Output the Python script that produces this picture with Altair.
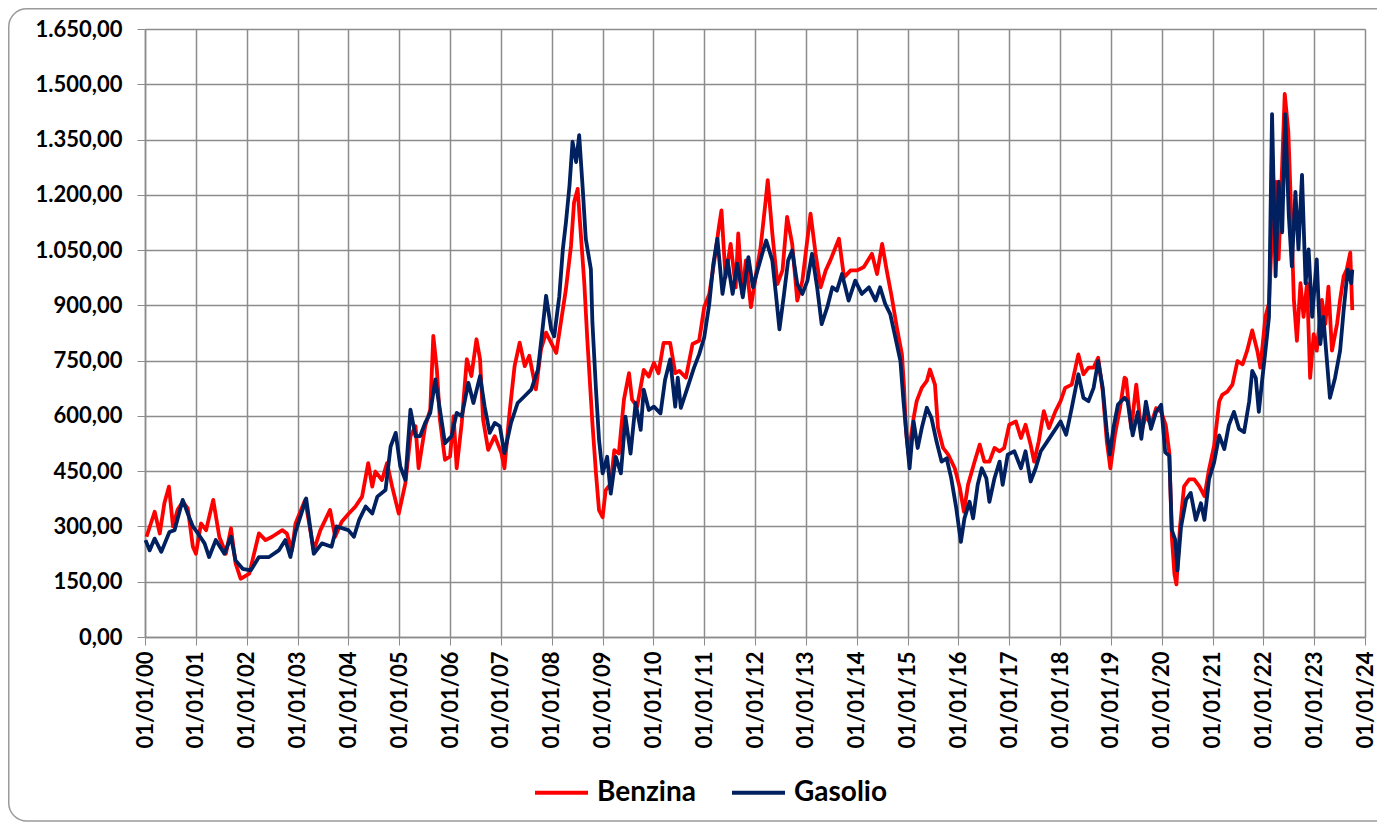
import altair as alt
import pandas as pd

# ---- data (decimal years, values) ----
benzina_anni = [
    2000.03, 2000.19, 2000.29, 2000.38, 2000.47, 2000.55, 2000.64, 2000.74, 2000.84, 2000.94,
    2001.00, 2001.10, 2001.20, 2001.34, 2001.46, 2001.59, 2001.69, 2001.78, 2001.88,
    2002.05, 2002.24, 2002.37, 2002.50, 2002.70, 2002.79, 2002.89, 2002.96,
    2003.15, 2003.32, 2003.45, 2003.64, 2003.74, 2003.87,
    2004.01, 2004.14, 2004.27, 2004.39, 2004.47, 2004.53, 2004.66, 2004.76, 2004.86, 2004.99,
    2005.12, 2005.22, 2005.32, 2005.38, 2005.51, 2005.61, 2005.67, 2005.74, 2005.80, 2005.90,
    2006.00, 2006.07, 2006.13, 2006.23, 2006.33, 2006.42, 2006.52, 2006.59, 2006.65, 2006.75, 2006.88,
    2007.01, 2007.07, 2007.17, 2007.27, 2007.37, 2007.47, 2007.56, 2007.69, 2007.79, 2007.89,
    2008.09, 2008.18, 2008.28, 2008.38, 2008.44, 2008.51, 2008.57, 2008.64, 2008.70, 2008.80, 2008.87, 2008.93,
    2009.00, 2009.06, 2009.16, 2009.23, 2009.32, 2009.42, 2009.52, 2009.58, 2009.68, 2009.81, 2009.91,
    2010.01, 2010.10, 2010.20, 2010.33, 2010.43, 2010.51, 2010.64, 2010.77, 2010.90,
    2011.00, 2011.10, 2011.20, 2011.29, 2011.34, 2011.42, 2011.52, 2011.62, 2011.67, 2011.75, 2011.82, 2011.92,
    2012.01, 2012.11, 2012.21, 2012.25, 2012.34, 2012.44, 2012.54, 2012.63, 2012.73, 2012.83, 2012.93,
    2013.09, 2013.19, 2013.29, 2013.39, 2013.48, 2013.65, 2013.75, 2013.88,
    2014.01, 2014.14, 2014.30, 2014.40, 2014.50, 2014.59, 2014.69, 2014.79, 2014.89, 2014.93, 2014.97,
    2015.02, 2015.12, 2015.18, 2015.28, 2015.38, 2015.44, 2015.54, 2015.60, 2015.70, 2015.80, 2015.93,
    2016.03, 2016.11, 2016.19, 2016.32, 2016.42, 2016.51, 2016.61, 2016.71, 2016.81, 2016.90,
    2017.00, 2017.13, 2017.23, 2017.32, 2017.42, 2017.49, 2017.58, 2017.68, 2017.78, 2017.91,
    2018.01, 2018.10, 2018.23, 2018.36, 2018.46, 2018.56, 2018.66, 2018.75, 2018.84, 2018.92, 2018.99,
    2019.08, 2019.18, 2019.27, 2019.30, 2019.40, 2019.50, 2019.60, 2019.69, 2019.79, 2019.89, 2019.99,
    2020.08, 2020.15, 2020.20, 2020.25, 2020.29, 2020.36, 2020.44, 2020.54, 2020.64, 2020.74, 2020.84, 2020.93,
    2021.03, 2021.13, 2021.19, 2021.29, 2021.39, 2021.49, 2021.59, 2021.68, 2021.78, 2021.88, 2021.94,
    2022.04, 2022.11, 2022.17, 2022.24, 2022.30, 2022.37, 2022.42, 2022.49, 2022.53, 2022.60, 2022.66,
    2022.73, 2022.79, 2022.86, 2022.92, 2022.99,
    2023.05, 2023.15, 2023.22, 2023.28, 2023.35, 2023.45, 2023.51, 2023.58, 2023.64, 2023.71, 2023.75,
]
benzina_valori = [
    272, 340, 281, 363, 408, 300, 345, 367, 349, 245,
    226, 308, 290, 372, 272, 226, 295, 200, 158,
    172, 281, 263, 272, 290, 281, 235, 308,
    372, 235, 290, 345, 272, 313,
    335, 354, 381, 472, 408, 449, 426, 472, 408, 335,
    417, 545, 572, 458, 572, 617, 817, 726, 590, 481,
    490, 599, 458, 581, 754, 708, 808, 754, 590, 508, 545,
    499, 458, 608, 735, 799, 735, 763, 672, 781, 826,
    771, 853, 944, 1062, 1180, 1216, 1098, 962, 807, 580, 444, 344,
    325, 398, 416, 507, 498, 644, 716, 644, 625, 725, 707,
    744, 716, 798, 798, 716, 722, 704, 795, 804,
    895, 931, 1022, 1113, 1158, 976, 1067, 949, 1095, 931, 1022, 895,
    976, 1058, 1185, 1240, 1095, 958, 995, 1140, 1067, 913, 967,
    1149, 1040, 949, 995, 1022, 1081, 976, 995,
    995, 1004, 1040, 985, 1067, 995, 922, 840, 767, 680, 560,
    495, 595, 640, 676, 695, 726, 685, 567, 513, 495, 458,
    404, 340, 413, 476, 522, 476, 476, 513, 504, 513,
    576, 585, 540, 576, 522, 476, 531, 613, 567, 613,
    640, 676, 685, 767, 713, 731, 731, 758, 667, 531, 458,
    549, 622, 704, 700, 565, 685, 556, 602, 575, 621, 611,
    575, 501, 272, 171, 143, 299, 409, 428, 428, 409, 382, 455,
    519, 639, 657, 666, 685, 749, 740, 777, 832, 777, 731,
    869, 906, 1098, 1236, 1025, 1282, 1474, 1373, 1217, 915, 804,
    960, 869, 960, 703, 822,
    777, 915, 850, 951, 777, 850, 915, 979, 997, 1043, 887,
]

gasolio_anni = [
    2000.01, 2000.09, 2000.19, 2000.32, 2000.48, 2000.58, 2000.74, 2000.84, 2000.94,
    2001.04, 2001.17, 2001.26, 2001.39, 2001.56, 2001.69, 2001.78, 2001.92,
    2002.08, 2002.24, 2002.44, 2002.63, 2002.76, 2002.86, 2002.96,
    2003.17, 2003.32, 2003.48, 2003.67, 2003.77,
    2004.00, 2004.11, 2004.21, 2004.34, 2004.47, 2004.57, 2004.73, 2004.83, 2004.93,
    2005.02, 2005.12, 2005.22, 2005.32, 2005.41, 2005.51, 2005.61, 2005.71, 2005.80, 2005.90,
    2006.03, 2006.13, 2006.23, 2006.36, 2006.46, 2006.59, 2006.68, 2006.78, 2006.88, 2006.98,
    2007.07, 2007.20, 2007.33, 2007.47, 2007.60, 2007.73, 2007.82, 2007.89, 2007.99,
    2008.05, 2008.15, 2008.22, 2008.28, 2008.35, 2008.41, 2008.48, 2008.54, 2008.61, 2008.67,
    2008.77, 2008.80, 2008.87, 2008.93,
    2009.00, 2009.09, 2009.16, 2009.26, 2009.36, 2009.45, 2009.55, 2009.65, 2009.75, 2009.81, 2009.91,
    2010.01, 2010.14, 2010.23, 2010.33, 2010.43, 2010.48, 2010.54, 2010.67, 2010.80, 2010.90,
    2011.00, 2011.10, 2011.18, 2011.26, 2011.36, 2011.46, 2011.56, 2011.65, 2011.76, 2011.87, 2011.96,
    2012.05, 2012.16, 2012.22, 2012.34, 2012.41, 2012.48, 2012.57, 2012.65, 2012.73, 2012.83, 2012.93,
    2013.03, 2013.12, 2013.22, 2013.31, 2013.42, 2013.52, 2013.61, 2013.71, 2013.84, 2013.97,
    2014.10, 2014.24, 2014.37, 2014.46, 2014.56, 2014.66, 2014.76, 2014.86, 2014.92, 2014.99,
    2015.04, 2015.12, 2015.20, 2015.28, 2015.38, 2015.47, 2015.57, 2015.67, 2015.77, 2015.86, 2015.96,
    2016.05, 2016.12, 2016.22, 2016.29, 2016.38, 2016.46, 2016.55, 2016.61, 2016.71, 2016.81, 2016.87, 2016.97,
    2017.10, 2017.23, 2017.32, 2017.42, 2017.52, 2017.62, 2017.75, 2017.88,
    2018.01, 2018.12, 2018.23, 2018.36, 2018.46, 2018.56, 2018.66, 2018.75, 2018.84, 2018.92, 2018.98,
    2019.05, 2019.14, 2019.27, 2019.33, 2019.43, 2019.53, 2019.60, 2019.69, 2019.79, 2019.89, 2019.99,
    2020.07, 2020.15, 2020.20, 2020.27, 2020.31, 2020.38, 2020.48, 2020.57, 2020.67, 2020.77, 2020.84, 2020.93,
    2021.03, 2021.13, 2021.23, 2021.32, 2021.42, 2021.52, 2021.62, 2021.72, 2021.78, 2021.85, 2021.91, 2021.98,
    2022.04, 2022.11, 2022.17, 2022.24, 2022.30, 2022.37, 2022.43, 2022.50, 2022.56, 2022.63, 2022.69,
    2022.76, 2022.83, 2022.89, 2022.96,
    2023.05, 2023.12, 2023.18, 2023.25, 2023.31, 2023.41, 2023.51, 2023.58, 2023.66, 2023.73, 2023.75,
]
gasolio_valori = [
    263, 235, 267, 231, 285, 290, 372, 335, 300,
    281, 254, 217, 263, 226, 272, 208, 185,
    181, 217, 217, 235, 263, 217, 285,
    376, 226, 254, 245, 300,
    290, 272, 317, 354, 335, 381, 399, 517, 554,
    463, 426, 617, 545, 545, 581, 608, 699, 617, 526,
    545, 608, 599, 690, 635, 708, 626, 554, 581, 572,
    499, 581, 635, 654, 672, 726, 835, 926, 835,
    816, 925, 1053, 1125, 1225, 1344, 1289, 1362, 1216, 1080,
    998, 853, 671, 535,
    444, 489, 389, 489, 444, 598, 498, 635, 562, 671, 616,
    625, 607, 698, 753, 625, 704, 622, 676, 731, 767,
    813, 904, 1013, 1081, 931, 1022, 931, 1013, 922, 1031, 949,
    995, 1049, 1076, 1022, 931, 835, 931, 1022, 1049, 958, 931,
    967, 1040, 949, 849, 895, 949, 940, 985, 913, 967,
    931, 949, 913, 949, 904, 876, 813, 749, 640, 531,
    458, 585, 513, 567, 622, 595, 531, 476, 485, 431, 349,
    258, 322, 367, 322, 413, 458, 431, 367, 431, 476, 413, 495,
    504, 458, 504, 422, 458, 504, 531, 558,
    585, 549, 622, 713, 649, 640, 676, 749, 676, 558, 495,
    567, 631, 649, 639, 547, 611, 538, 639, 565, 611, 630,
    501, 492, 290, 262, 180, 299, 373, 391, 318, 363, 318, 428,
    474, 547, 510, 575, 611, 565, 556, 639, 722, 703, 611, 703,
    777, 869, 1419, 979, 1236, 1098, 1419, 1144, 1006, 1208, 1052,
    1254, 960, 1052, 869,
    1025, 795, 869, 750, 649, 703, 777, 887, 997, 960, 997,
]

serie = ["Benzina", "Gasolio"]
colori = ["#ff0000", "#002060"]
y_ticks = list(range(0, 1651, 150))
anni_ticks = list(range(2000, 2025))


def to_date(t):
    y = int(t)
    start = pd.Timestamp(year=y, month=1, day=1)
    end = pd.Timestamp(year=y + 1, month=1, day=1)
    return (start + (end - start) * (t - y)).strftime("%Y-%m-%dT%H:%M:%S")


rows = []
for t, v in zip(benzina_anni, benzina_valori):
    rows.append({"data": to_date(t), "valore": v, "serie": "Benzina"})
for t, v in zip(gasolio_anni, gasolio_valori):
    rows.append({"data": to_date(t), "valore": v, "serie": "Gasolio"})
df = pd.DataFrame(rows)

FONT = "Lato"
GRID = "#8c8c8c"

# outer chart frame (the right side runs past the picture, as in the reference)
border = alt.Chart(pd.DataFrame({"k": [0]})).mark_rect(
    fillOpacity=0, stroke="#9a9a9a", strokeWidth=1.5, cornerRadius=18
).encode(
    x=alt.value(-136.25), x2=alt.value(1300), y=alt.value(-20.25), y2=alt.value(792)
)

lines = alt.Chart(df).mark_line(strokeWidth=3.8, strokeJoin="round").encode(
    x=alt.X(
        "data:T",
        scale=alt.Scale(
            domain=[alt.DateTime(year=2000, month=1, date=1),
                    alt.DateTime(year=2024, month=1, date=1)],
            nice=False,
        ),
        axis=alt.Axis(
            values=[alt.DateTime(year=a, month=1, date=1) for a in anni_ticks],
            format="%d/%m/%y",
            labelAngle=-90,
            labelFont=FONT,
            labelFontWeight="bold",
            labelFontSize=22,
            labelColor="#000000",
            labelPadding=6,
            labelOverlap=False,
            labelFlush=False,
            labelBound=False,
            tickSize=8,
            tickColor=GRID,
            domainColor=GRID,
            domainWidth=1.5,
            grid=True,
            gridColor=GRID,
            gridWidth=1.5,
            title=None,
        ),
    ),
    y=alt.Y(
        "valore:Q",
        scale=alt.Scale(domain=[0, 1650], nice=False),
        axis=alt.Axis(
            values=y_ticks,
            labelExpr="replace(replace(replace(format(datum.value, ',.2f'), ',', '#'), '.', ','), '#', '.')",
            labelFont=FONT,
            labelFontWeight="bold",
            labelFontSize=22,
            labelColor="#000000",
            labelPadding=15,
            tickSize=8,
            tickColor=GRID,
            domainColor=GRID,
            domainWidth=1.5,
            grid=True,
            gridColor=GRID,
            gridWidth=1.3,
            title=None,
        ),
    ),
    color=alt.Color(
        "serie:N",
        scale=alt.Scale(domain=serie, range=colori),
        legend=alt.Legend(
            orient="none",
            legendX=388,
            legendY=735,
            direction="horizontal",
            title=None,
            symbolType="stroke",
            symbolStrokeWidth=4,
            symbolSize=2809,
            labelFont=FONT,
            labelFontWeight="bold",
            labelFontSize=28,
            labelColor="#000000",
            labelOffset=7,
            columnPadding=28,
        ),
    ),
    order=alt.Order("serie:N"),
)

chart = alt.layer(border, lines).properties(
    width=1220,
    height=608,
    autosize=alt.AutoSizeParams(type="none"),
    padding={"left": 137, "top": 21, "right": 12, "bottom": 185},
).configure_view(stroke=None)

chart.save("out.html", embed_options={"renderer": "svg", "actions": False})
